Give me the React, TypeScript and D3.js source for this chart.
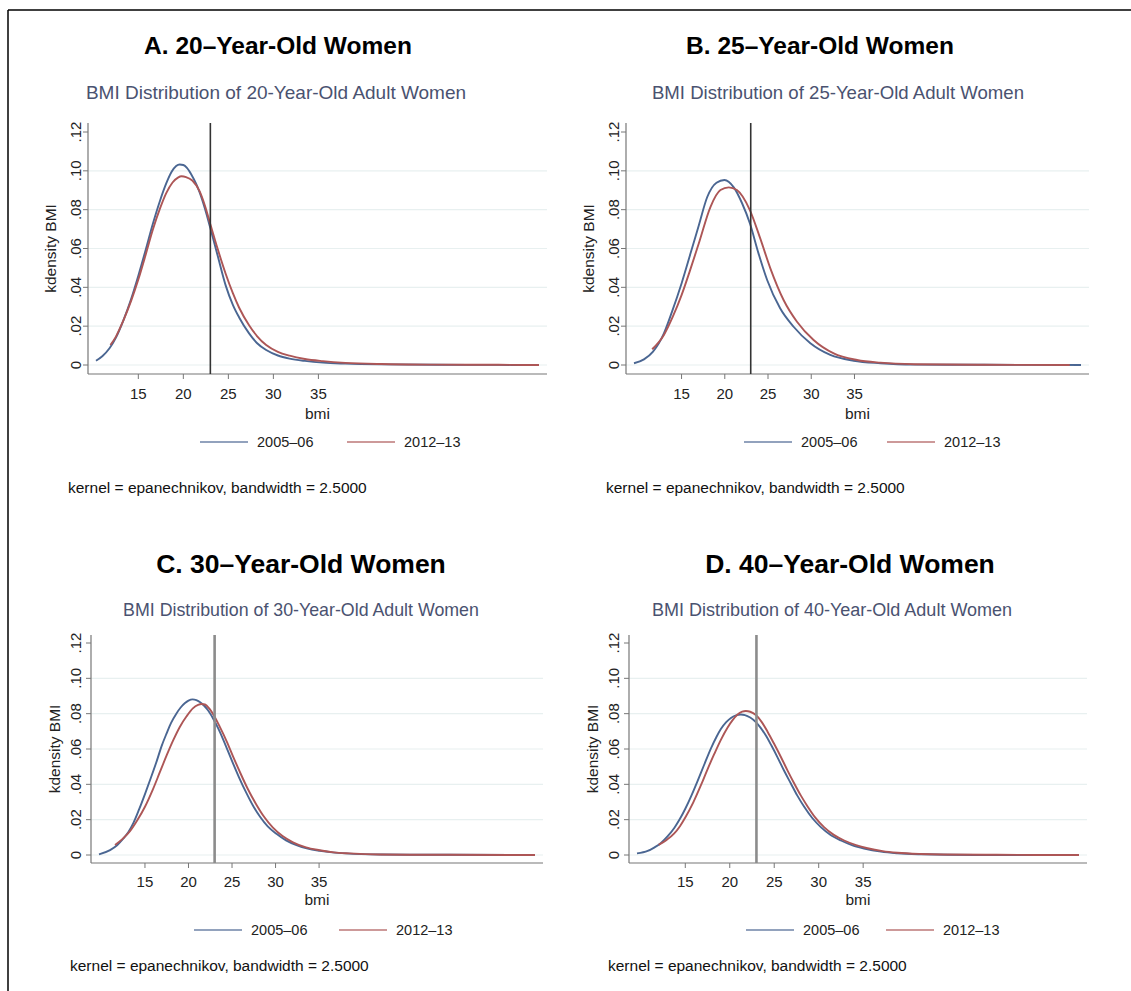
import React from 'react';
import * as d3 from 'd3';

type Pt = [number, number];

// ---------- data ----------
const seriesLabels = ['2005–06', '2012–13'];
const panelTitles = ['A. 20–Year-Old Women', 'B. 25–Year-Old Women', 'C. 30–Year-Old Women', 'D. 40–Year-Old Women'];
const panelSubtitles = [
  'BMI Distribution of 20-Year-Old Adult Women',
  'BMI Distribution of 25-Year-Old Adult Women',
  'BMI Distribution of 30-Year-Old Adult Women',
  'BMI Distribution of 40-Year-Old Adult Women',
];
const yTicks = [0, 0.02, 0.04, 0.06, 0.08, 0.1, 0.12];
const yTickLabels = ['0', '.02', '.04', '.06', '.08', '.10', '.12'];
const gridValues = [0, 0.02, 0.04, 0.06, 0.08, 0.1];
const xTicks = [15, 20, 25, 30, 35];
const cutoffBMI = 23;
const yAxisTitle = 'kdensity BMI';
const xAxisTitle = 'bmi';
const noteText = 'kernel = epanechnikov, bandwidth = 2.5000';

// Panel A: 20-year-old women
const a2005: Pt[] = [
  [10.3, 0.0022], [11.0, 0.0045], [11.8, 0.0086], [12.5, 0.014], [13.3, 0.0225], [14.2, 0.034], [15.0, 0.046],
  [15.8, 0.059], [16.6, 0.0725], [17.4, 0.0845], [18.1, 0.0935], [18.7, 0.0995], [19.2, 0.1025], [19.6, 0.1033],
  [20.0, 0.103], [20.4, 0.1015], [20.9, 0.098], [21.4, 0.0935], [21.8, 0.089], [22.4, 0.0805], [23.0, 0.0705],
  [23.8, 0.0565], [24.7, 0.041], [25.5, 0.031], [26.2, 0.0245], [27.3, 0.0163], [28.2, 0.0112], [29.2, 0.0077],
  [30.5, 0.0049], [31.8, 0.0033], [33.5, 0.0021], [35.5, 0.0012], [38.0, 0.0007], [42.0, 0.0003], [48.0, 0.0001],
  [55.0, 0.00005], [59.5, 0],
];
const a2012: Pt[] = [
  [11.9, 0.0103], [12.5, 0.0145], [13.3, 0.0225], [14.2, 0.033], [15.0, 0.044], [15.8, 0.0565], [16.6, 0.0695],
  [17.4, 0.0805], [18.1, 0.0885], [18.8, 0.094], [19.4, 0.0965], [19.8, 0.0972], [20.3, 0.0968], [21.0, 0.095],
  [21.8, 0.0895], [22.4, 0.082], [23.0, 0.0725], [23.8, 0.06], [24.7, 0.047], [25.5, 0.037], [26.2, 0.0295],
  [27.3, 0.0205], [28.2, 0.0148], [29.2, 0.0103], [30.5, 0.0068], [31.8, 0.0048], [33.5, 0.0031], [35.5, 0.002],
  [38.0, 0.0011], [42.0, 0.0005], [48.0, 0.0002], [55.0, 0.0001], [59.5, 0],
];
// Panel B: 25-year-old women
const b2005: Pt[] = [
  [9.5, 0.0009], [10.65, 0.0029], [11.7, 0.0069], [12.96, 0.0163], [13.9, 0.0275], [15.0, 0.042], [16.04, 0.0575],
  [17.0, 0.072], [17.96, 0.0864], [19.04, 0.0939], [19.96, 0.0953], [21.04, 0.0915], [22.0, 0.0833], [22.9, 0.073],
  [23.9, 0.0575], [24.9, 0.0438], [26.4, 0.0292], [27.96, 0.0197], [29.9, 0.0112], [32.2, 0.0052], [34.9, 0.0022],
  [38.0, 0.0009], [41.8, 0.0002], [50.0, 0.0001], [61.2, 0],
];
const b2012: Pt[] = [
  [11.6, 0.0081], [12.96, 0.0155], [14.0, 0.025], [15.0, 0.036], [16.0, 0.049], [17.0, 0.0627], [18.35, 0.0815],
  [19.5, 0.0901], [20.46, 0.0915], [21.4, 0.0901], [22.9, 0.0798], [24.1, 0.0652], [25.27, 0.0498], [26.8, 0.0335],
  [28.35, 0.0223], [30.27, 0.0129], [32.6, 0.006], [35.3, 0.0026], [38.0, 0.0012], [42.0, 0.0004], [50.0, 0.0001], [59.9, 0],
];
// Panel C: 30-year-old women
const c2005: Pt[] = [
  [9.72, 0.0004], [10.99, 0.0028], [11.8, 0.0055], [12.5, 0.0092], [13.1, 0.013], [13.66, 0.018], [14.3, 0.0255],
  [15.0, 0.0345], [15.7, 0.044], [16.34, 0.053], [16.9, 0.0615], [17.5, 0.069], [18.0, 0.0748], [18.6, 0.08],
  [19.1, 0.0835], [19.6, 0.086], [20.0, 0.0874], [20.47, 0.0881], [20.9, 0.0877], [21.3, 0.0866], [21.8, 0.0845],
  [22.26, 0.0818], [22.9, 0.0766], [23.4, 0.0718], [24.0, 0.0652], [24.5, 0.0592], [25.1, 0.052], [25.8, 0.044],
  [26.66, 0.035], [27.4, 0.028], [28.2, 0.0218], [29.1, 0.0162], [30.1, 0.012], [31.2, 0.0083], [32.4, 0.0056],
  [33.7, 0.0036], [35.07, 0.0024], [36.5, 0.0015], [38.1, 0.0009], [42.0, 0.0003], [50.0, 0.0001], [59.8, 0],
];
const c2012: Pt[] = [
  [11.56, 0.0057], [12.4, 0.009], [13.28, 0.0135], [14.1, 0.0195], [15.0, 0.0273], [15.9, 0.037], [16.72, 0.047],
  [17.5, 0.0565], [18.25, 0.065], [19.0, 0.0725], [19.78, 0.0785], [20.5, 0.083], [21.1, 0.085], [21.5, 0.0855],
  [21.9, 0.0852], [22.4, 0.0828], [22.9, 0.0791], [23.6, 0.0725], [24.37, 0.0645], [25.1, 0.056], [25.9, 0.047],
  [26.8, 0.0375], [27.8, 0.0285], [28.7, 0.0215], [29.7, 0.0155], [30.8, 0.0107], [32.0, 0.0072], [33.5, 0.0043],
  [35.07, 0.0027], [36.7, 0.0015], [38.5, 0.0009], [42.0, 0.0003], [50.0, 0.0001], [59.8, 0],
];
// Panel D: 40-year-old women
const d2005: Pt[] = [
  [9.57, 0.0009], [10.77, 0.0023], [11.5, 0.0042], [12.27, 0.0068], [13.0, 0.0105], [13.76, 0.0153], [14.4, 0.0205],
  [15.0, 0.0262], [15.7, 0.0338], [16.39, 0.042], [17.1, 0.0508], [17.9, 0.0605], [18.5, 0.0668], [19.0, 0.0713],
  [19.6, 0.0752], [20.13, 0.0776], [20.7, 0.079], [21.25, 0.0795], [21.7, 0.0792], [22.3, 0.0778], [22.94, 0.0752],
  [23.5, 0.0718], [24.06, 0.0676], [24.7, 0.0618], [25.37, 0.0553], [26.1, 0.0478], [26.87, 0.0405], [27.6, 0.0336],
  [28.37, 0.0273], [29.3, 0.0208], [30.24, 0.0158], [31.3, 0.0115], [32.5, 0.0082], [33.8, 0.0055], [35.1, 0.0037],
  [37.0, 0.0019], [38.86, 0.001], [41.5, 0.0004], [44.5, 0.0001], [52.0, 0], [59.2, 0],
];
const d2012: Pt[] = [
  [12.0, 0.0057], [12.9, 0.0085], [13.76, 0.0122], [14.4, 0.0163], [15.0, 0.0212], [15.9, 0.0298], [16.76, 0.0395],
  [17.5, 0.0485], [18.26, 0.0572], [19.0, 0.0652], [19.76, 0.0722], [20.3, 0.0762], [20.88, 0.0795], [21.4, 0.0811],
  [21.8, 0.0815], [22.3, 0.0811], [22.94, 0.0792], [23.6, 0.0752], [24.25, 0.0698], [25.0, 0.0628], [25.75, 0.0555],
  [26.5, 0.0478], [27.25, 0.0405], [28.0, 0.0336], [28.75, 0.0275], [29.6, 0.0213], [30.6, 0.0158], [31.7, 0.0114],
  [32.87, 0.0082], [34.2, 0.0056], [35.5, 0.0038], [37.2, 0.0022], [38.86, 0.0013], [41.5, 0.0006], [44.0, 0.0003],
  [50.0, 0.0001], [59.27, 0],
];
const panelSeries: Pt[][][] = [[a2005, a2012], [b2005, b2012], [c2005, c2012], [d2005, d2012]];

// ---------- layout / style ----------
const FONT = '"Liberation Sans", Arial, Helvetica, sans-serif';
const BLUE = '#4a6692';
const RED = '#ad5656';
const SUB = '#4a5270';

interface Layout {
  left: number; right: number; top: number; bottom: number; inset: number;
  titleX: number; titleY: number; titleSize: number; subX: number; subY: number; subSize: number;
  ylabX: number; tickX: number; xTickY: number; bmiY: number;
  legY: number; leg1: number; leg2: number; noteX: number; noteY: number;
  refColor: string; refW: number;
}
const layouts: Layout[] = [
  { left: 88, right: 547, top: 123, bottom: 374, inset: 9, titleX: 278, titleY: 54, titleSize: 24.5,
    subX: 276, subY: 99, subSize: 19,
    ylabX: 50, tickX: 75, xTickY: 399, bmiY: 419, legY: 442, leg1: 200, leg2: 347, noteX: 68, noteY: 493,
    refColor: '#333', refW: 1.6 },
  { left: 626, right: 1089, top: 123, bottom: 374, inset: 9, titleX: 820, titleY: 54, titleSize: 24.5,
    subX: 838, subY: 99, subSize: 18.6,
    ylabX: 588, tickX: 613, xTickY: 399, bmiY: 419, legY: 442, leg1: 744, leg2: 887, noteX: 606, noteY: 493,
    refColor: '#333', refW: 1.6 },
  { left: 91, right: 543, top: 635, bottom: 863, inset: 8, titleX: 301, titleY: 573, titleSize: 26.5,
    subX: 301, subY: 616, subSize: 17.8,
    ylabX: 54, tickX: 75, xTickY: 887, bmiY: 905, legY: 930, leg1: 194, leg2: 339, noteX: 70, noteY: 971,
    refColor: '#8c8c8c', refW: 2.6 },
  { left: 629, right: 1087, top: 635, bottom: 863, inset: 8, titleX: 850, titleY: 573, titleSize: 26.5,
    subX: 832, subY: 616, subSize: 18,
    ylabX: 592, tickX: 613, xTickY: 887, bmiY: 905, legY: 930, leg1: 746, leg2: 886, noteX: 608, noteY: 971,
    refColor: '#8c8c8c', refW: 2.6 },
];

function Panel({ idx }: { idx: number }) {
  const L = layouts[idx];
  const series = panelSeries[idx];
  const allX = series.flat().map((p) => p[0]);
  const x = d3.scaleLinear().domain(d3.extent(allX) as [number, number]).range([L.left + 8, L.right - 8]);
  const y = d3.scaleLinear().domain([0, 0.12]).range([L.bottom - L.inset, L.top + L.inset]);
  const line = d3.line<Pt>().x((d) => x(d[0])).y((d) => y(d[1])).curve(d3.curveMonotoneX);
  const colors = [BLUE, RED];
  const legXs = [L.leg1, L.leg2];
  return (
    <g fontFamily={FONT}>
      <text x={L.titleX} y={L.titleY} textAnchor="middle" fontSize={L.titleSize} fontWeight="bold" fill="#000">{panelTitles[idx]}</text>
      <text x={L.subX} y={L.subY} textAnchor="middle" fontSize={L.subSize} fill={SUB}>{panelSubtitles[idx]}</text>
      {gridValues.map((g) => (
        <line key={g} x1={L.left} x2={L.right} y1={y(g)} y2={y(g)} stroke="#e8f0f0" strokeWidth={1.2} />
      ))}
      {/* axes */}
      <line x1={L.left} x2={L.left} y1={L.top} y2={L.bottom} stroke="#777" strokeWidth={1.2} />
      <line x1={L.left} x2={L.right} y1={L.bottom} y2={L.bottom} stroke="#777" strokeWidth={1.2} />
      {yTicks.map((t, i) => (
        <g key={t}>
          <line x1={L.left - 5} x2={L.left} y1={y(t)} y2={y(t)} stroke="#777" strokeWidth={1} />
          <text transform={`translate(${L.tickX},${y(t)}) rotate(-90)`} textAnchor="middle" dominantBaseline="central"
            fontSize={15} fill="#222">{yTickLabels[i]}</text>
        </g>
      ))}
      {xTicks.map((t) => (
        <g key={t}>
          <line x1={x(t)} x2={x(t)} y1={L.bottom} y2={L.bottom + 5} stroke="#777" strokeWidth={1} />
          <text x={x(t)} y={L.xTickY} textAnchor="middle" fontSize={15} fill="#222">{t}</text>
        </g>
      ))}
      <text transform={`translate(${L.ylabX},${(L.top + L.bottom) / 2}) rotate(-90)`} textAnchor="middle"
        dominantBaseline="central" fontSize={15.5} fill="#222">{yAxisTitle}</text>
      <text x={(L.left + L.right) / 2} y={L.bmiY} textAnchor="middle" fontSize={15.5} fill="#222">{xAxisTitle}</text>
      {/* curves */}
      {series.map((s, i) => (
        <path key={i} d={line(s) || ''} fill="none" stroke={colors[i]} strokeWidth={1.9} strokeLinejoin="round" />
      ))}
      {/* reference line */}
      <line x1={x(cutoffBMI)} x2={x(cutoffBMI)} y1={L.top} y2={L.bottom} stroke={L.refColor} strokeWidth={L.refW} />
      {/* legend */}
      {seriesLabels.map((lab, i) => (
        <g key={lab}>
          <line x1={legXs[i]} x2={legXs[i] + 48} y1={L.legY} y2={L.legY} stroke={colors[i]} strokeWidth={1.3} opacity={0.8} />
          <text x={legXs[i] + 57} y={L.legY + 5} fontSize={14.5} fill="#222">{lab}</text>
        </g>
      ))}
      <text x={L.noteX} y={L.noteY} fontSize={15.5} fill="#111">{noteText}</text>
    </g>
  );
}

export default function App() {
  return (
    <svg width={1131} height={991} style={{ position: 'absolute', left: 0, top: 0, background: '#fff' }}>
      <rect x={0} y={0} width={1131} height={991} fill="#fff" />
      <line x1={8} x2={1131} y1={10} y2={10} stroke="#000" strokeWidth={1.5} />
      <line x1={8} x2={8} y1={10} y2={991} stroke="#000" strokeWidth={1.5} />
      {layouts.map((_, i) => (
        <Panel key={i} idx={i} />
      ))}
    </svg>
  );
}
